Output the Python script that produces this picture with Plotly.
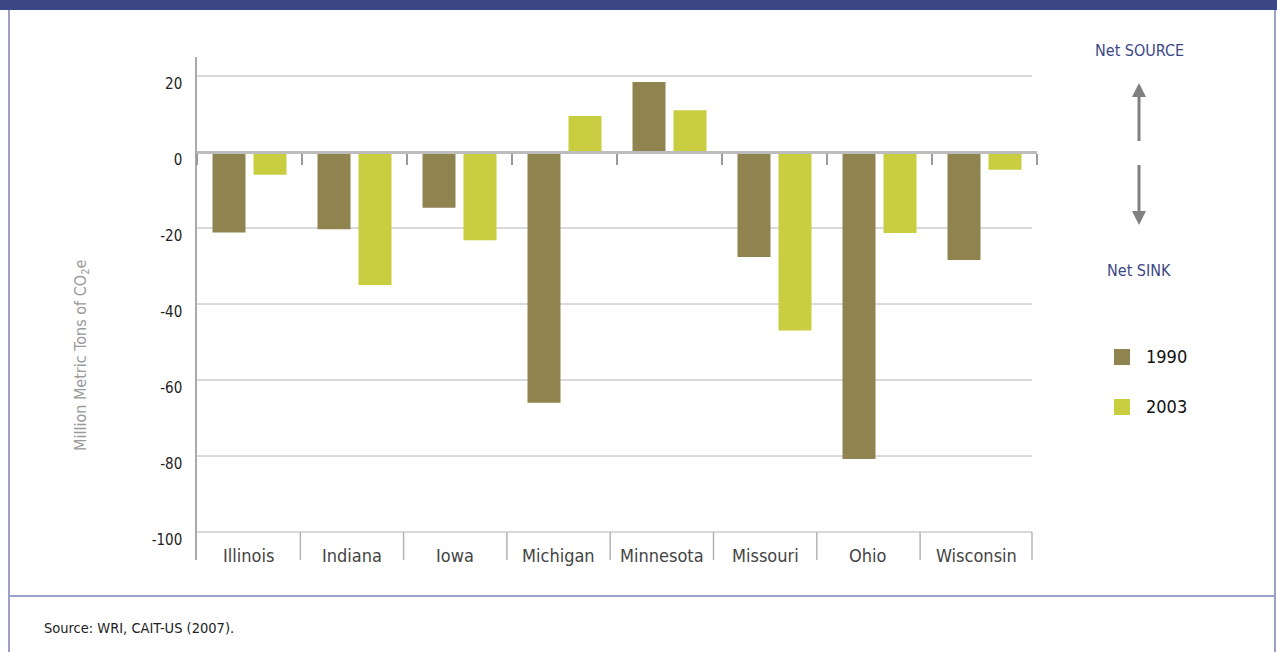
import plotly.graph_objects as go

# Net CO2 flux from land use and forestry, by state
states = ["Illinois", "Indiana", "Iowa", "Michigan", "Minnesota", "Missouri", "Ohio", "Wisconsin"]
values_1990 = [-21.2, -20.3, -14.7, -66.0, 18.4, -27.6, -80.8, -28.4]
values_2003 = [-6.0, -35.0, -23.2, 9.5, 11.0, -47.0, -21.3, -4.7]
series_names = ["1990", "2003"]
y_ticks = [20, 0, -20, -40, -60, -80, -100]

W, H = 1277, 652
FONT = "DejaVu Sans Condensed, Liberation Sans Narrow, Arial Narrow, sans-serif"
C1990 = "#8f8350"
C2003 = "#c8ce40"
NAVY = "#3c4886"
FRAME = "#9ba1c6"
GRID = "#b4b4b4"
ARROW = "#808080"

# pixel layout of the panel
PLOT_L, PLOT_R, GRID_R = 197, 1037, 1032
PLOT_T, PLOT_B = 57, 560
LABEL_STEP = 103.3
Y_BOTTOM = -107.37


def px(x):
    return x / W


def py(y):
    return 1 - y / H


fig = go.Figure()
for name, vals, col in [(series_names[0], values_1990, C1990), (series_names[1], values_2003, C2003)]:
    fig.add_trace(go.Bar(x=states, y=vals, name=name, marker=dict(color=col, line=dict(width=0)),
                         showlegend=False))

shapes = []
annotations = []

# horizontal grid lines (the zero line is the category axis itself)
for v in y_ticks:
    if v == 0:
        continue
    shapes.append(dict(type="line", xref="paper", yref="y", x0=px(PLOT_L), x1=px(GRID_R), y0=v, y1=v,
                       line=dict(color=GRID, width=1), layer="below"))

# separators and labels in the category strip under the grid
edges = [PLOT_L + LABEL_STEP * (i + 1) for i in range(len(states) - 1)] + [GRID_R]
lefts = [PLOT_L] + edges[:-1]
for e in edges:
    shapes.append(dict(type="line", xref="paper", yref="y", x0=px(e), x1=px(e),
                       y0=y_ticks[-1], y1=Y_BOTTOM, line=dict(color=GRID, width=1.5), layer="below"))
for s, l, r in zip(states, lefts, edges):
    annotations.append(dict(text=s, xref="paper", yref="paper", x=px((l + r) / 2), y=py(555),
                            showarrow=False, xanchor="center", yanchor="middle",
                            font=dict(family=FONT, size=18, color="#444444")))

# y axis title
annotations.append(dict(text="Million Metric Tons of CO<sub>2</sub>e", xref="paper", yref="paper",
                        x=px(81), y=py(355), textangle=-90, showarrow=False,
                        xanchor="center", yanchor="middle",
                        font=dict(family=FONT, size=16, color="#9a9a9a")))

# source / sink indicator
annotations.append(dict(text="Net SOURCE", xref="paper", yref="paper", x=px(1139), y=py(51),
                        showarrow=False, xanchor="center", yanchor="middle",
                        font=dict(family=FONT, size=16, color=NAVY)))
annotations.append(dict(text="Net SINK", xref="paper", yref="paper", x=px(1139), y=py(270),
                        showarrow=False, xanchor="center", yanchor="middle",
                        font=dict(family=FONT, size=16, color=NAVY)))

# up arrow (source) and down arrow (sink)
ax_ = 1139
shapes.append(dict(type="line", xref="paper", yref="paper", x0=px(ax_), x1=px(ax_),
                   y0=py(141), y1=py(95), line=dict(color=ARROW, width=3)))
shapes.append(dict(type="path", xref="paper", yref="paper",
                   path=f"M {px(ax_ - 7)} {py(97)} L {px(ax_ + 7)} {py(97)} L {px(ax_)} {py(83)} Z",
                   fillcolor=ARROW, line=dict(width=0)))
shapes.append(dict(type="line", xref="paper", yref="paper", x0=px(ax_), x1=px(ax_),
                   y0=py(165), y1=py(213), line=dict(color=ARROW, width=3)))
shapes.append(dict(type="path", xref="paper", yref="paper",
                   path=f"M {px(ax_ - 7)} {py(211)} L {px(ax_ + 7)} {py(211)} L {px(ax_)} {py(225)} Z",
                   fillcolor=ARROW, line=dict(width=0)))

# legend
for k, (name, col) in enumerate([(series_names[0], C1990), (series_names[1], C2003)]):
    yc = 357 + 50 * k
    shapes.append(dict(type="rect", xref="paper", yref="paper", x0=px(1114), x1=px(1130),
                       y0=py(yc - 8), y1=py(yc + 8), fillcolor=col, line=dict(width=0)))
    annotations.append(dict(text=name, xref="paper", yref="paper", x=px(1144), y=py(yc),
                            showarrow=False, xanchor="left", yanchor="middle",
                            font=dict(family=FONT, size=18, color="#111111")))

# source note
annotations.append(dict(text="Source: WRI, CAIT-US (2007).", xref="paper", yref="paper",
                        x=px(42), y=py(628), showarrow=False, xanchor="left", yanchor="middle",
                        font=dict(family=FONT, size=14.5, color="#222222")))

# panel frame
shapes.append(dict(type="rect", xref="paper", yref="paper", x0=0, x1=1, y0=py(10), y1=1,
                   fillcolor=NAVY, line=dict(width=0)))
shapes.append(dict(type="line", xref="paper", yref="paper", x0=px(9), x1=px(9), y0=0, y1=py(10),
                   line=dict(color=FRAME, width=2)))
shapes.append(dict(type="line", xref="paper", yref="paper", x0=px(1275), x1=px(1275), y0=0, y1=py(10),
                   line=dict(color=FRAME, width=2)))
shapes.append(dict(type="line", xref="paper", yref="paper", x0=px(9), x1=px(1275), y0=py(596), y1=py(596),
                   line=dict(color=FRAME, width=2)))

fig.update_layout(
    width=W, height=H,
    margin=dict(l=0, r=0, t=0, b=0, autoexpand=False),
    paper_bgcolor="white", plot_bgcolor="white",
    barmode="group", bargap=0.219, bargroupgap=0.195,
    xaxis=dict(domain=[px(PLOT_L), px(PLOT_R)], range=[-0.5, 7.5], anchor="free", position=py(152),
               type="category", showline=True, linecolor="#bdbdbd", linewidth=2.5,
               ticks="outside", tickson="boundaries", ticklen=11, tickwidth=1.5, tickcolor="#9a9a9a",
               showticklabels=False, showgrid=False, zeroline=False, fixedrange=True),
    yaxis=dict(domain=[py(PLOT_B), py(PLOT_T)], range=[Y_BOTTOM, 25], anchor="x",
               tickvals=y_ticks, ticktext=[str(v) for v in y_ticks],
               showline=True, linecolor="#aaaaaa", linewidth=1.5, showgrid=False, zeroline=False,
               ticks="", ticklabelstandoff=10, ticklabelshift=8,
               tickfont=dict(family=FONT, size=15, color="#222222"), fixedrange=True),
    shapes=shapes, annotations=annotations,
    font=dict(family=FONT),
)

fig.write_html("out.html", config={"displayModeBar": False})
